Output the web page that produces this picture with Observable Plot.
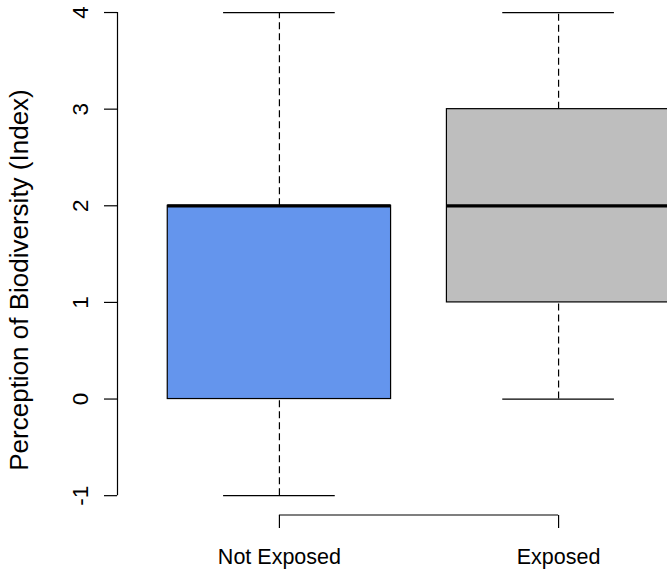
<!DOCTYPE html>
<html>
<head>
<meta charset="utf-8">
<script src="https://cdn.jsdelivr.net/npm/d3@7"></script>
<script src="https://cdn.jsdelivr.net/npm/@observablehq/plot@0.6"></script>
<style>
  html, body { margin: 0; padding: 0; background: #fff; }
  svg { overflow: hidden; }
</style>
</head>
<body>
<div id="chart"></div>
<script>
// Data
const categories = ["Not Exposed", "Exposed"];
const positions = [1, 2];
const minimums = [-1, 0];
const lowerQuartiles = [0, 1];
const medians = [2, 2];
const upperQuartiles = [2, 3];
const maximums = [4, 4];
const fills = ["#6495ED", "#BEBEBE"];
const yTicks = [-1, 0, 1, 2, 3, 4];
const yTitle = "Perception of Biodiversity (Index)";

const boxes = categories.map((c, i) => ({
  cat: c, pos: positions[i], min: minimums[i], q1: lowerQuartiles[i],
  med: medians[i], q3: upperQuartiles[i], max: maximums[i], fill: fills[i]
}));

const halfBox = 0.4;   // boxwex 0.8
const halfCap = 0.2;   // staplewex 0.5
const xDomain = [0.42, 2.58];
const yDomain = [-1.2, 4.2];
const font = "Liberation Sans, Arial, sans-serif";

const plot = Plot.plot({
  width: 667,
  height: 570,
  marginLeft: 117,
  marginRight: 0,
  marginTop: 0,
  marginBottom: 55,
  style: { fontFamily: font, background: "#fff", color: "#000" },
  x: { type: "linear", domain: xDomain, range: [117, 720], label: null },
  y: { type: "linear", domain: yDomain, range: [514.5, -7.3], label: null },
  marks: [
    // whiskers (dashed)
    Plot.ruleX(boxes, { x: "pos", y1: "q3", y2: "max", stroke: "#000", strokeWidth: 1.2, strokeDasharray: "7,4" }),
    Plot.ruleX(boxes, { x: "pos", y1: "min", y2: "q1", stroke: "#000", strokeWidth: 1.2, strokeDasharray: "7,4" }),
    // staples
    Plot.ruleY(boxes, { y: "max", x1: d => d.pos - halfCap, x2: d => d.pos + halfCap, stroke: "#000", strokeWidth: 1.2 }),
    Plot.ruleY(boxes, { y: "min", x1: d => d.pos - halfCap, x2: d => d.pos + halfCap, stroke: "#000", strokeWidth: 1.2 }),
    // boxes
    Plot.rect(boxes, { x1: d => d.pos - halfBox, x2: d => d.pos + halfBox, y1: "q1", y2: "q3", fill: "fill", stroke: "#000", strokeWidth: 1.2, clip: true }),
    // medians
    Plot.ruleY(boxes, { y: "med", x1: d => d.pos - halfBox, x2: d => d.pos + halfBox, stroke: "#000", strokeWidth: 3.2, clip: true }),
    // y axis line
    Plot.ruleX([xDomain[0]], { y1: yTicks[0], y2: yTicks[yTicks.length - 1], stroke: "#000", strokeWidth: 1.2 }),
    // y ticks
    Plot.axisY({ ticks: yTicks, tickSize: 13, tickFormat: () => "", label: null, stroke: "#000", strokeWidth: 1.2 }),
    // y tick labels (rotated)
    Plot.text(yTicks, { y: d => d, text: d => String(d), frameAnchor: "left", dx: -30, rotate: -90, textAnchor: "middle", lineAnchor: "bottom", fontSize: 22.5, fill: "#000" }),
    // x axis line
    Plot.ruleY([yDomain[0]], { x1: positions[0], x2: positions[positions.length - 1], stroke: "#000", strokeWidth: 1.2 }),
    // x ticks and labels
    Plot.axisX({ ticks: positions, tickSize: 13, tickPadding: 20, label: null, tickFormat: d => categories[positions.indexOf(d)], fontSize: 21.5, stroke: "#000", strokeWidth: 1.2, fill: "#000" }),
    // y title
    Plot.text([yTitle], { text: d => d, frameAnchor: "left", dx: -90, dy: 22, rotate: -90, textAnchor: "middle", lineAnchor: "bottom", fontSize: 26, fill: "#000" })
  ]
});
document.getElementById("chart").appendChild(plot);
</script>
</body>
</html>
